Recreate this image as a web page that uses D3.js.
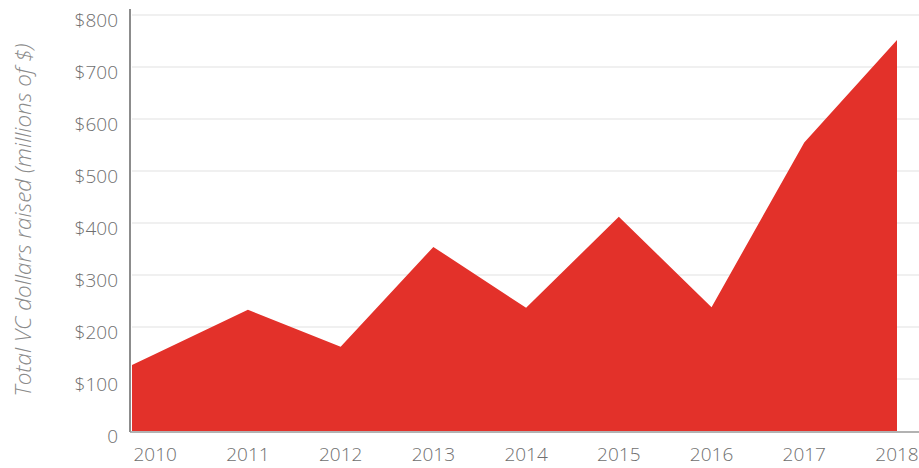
<!DOCTYPE html>
<meta charset="utf-8" />
<title>Total VC dollars raised</title>
<style>
  body { margin: 0; background: #fff; }
  svg { display: block; font-family: "Open Sans", sans-serif; }
  .grid line { stroke: #f0f0f0; stroke-width: 2px; }
  .tick-label { fill: #6f6f6f; font-size: 19px; font-weight: 300; }
  .axis-title { fill: #8a8a8a; font-size: 22.5px; font-style: italic; font-weight: 300; }
</style>
<svg width="919" height="468"></svg>
<script src="https://d3js.org/d3.v7.min.js"></script>
<script>
const years = [2010, 2011, 2012, 2013, 2014, 2015, 2016, 2017, 2018];
const raised = [148, 233, 162, 354, 237, 412, 238, 555, 752];
const yTicks = [0, 100, 200, 300, 400, 500, 600, 700, 800];

const svg = d3.select("svg");
const plotLeft = 132, plotRight = 897, plotTop = 15, plotBottom = 431;

const x = d3.scaleLinear().domain([2009.75, 2018]).range([plotLeft, plotRight]);
const y = d3.scaleLinear().domain([0, 800]).range([plotBottom, plotTop]);

const data = years.map((yr, i) => ({ year: yr, value: raised[i] }));

// gridlines
svg.append("g").attr("class", "grid")
  .selectAll("line")
  .data(yTicks.filter(d => d > 0))
  .enter().append("line")
  .attr("x1", plotLeft)
  .attr("x2", 919)
  .attr("y1", d => y(d))
  .attr("y2", d => y(d));

// the area starts at the axis: extend the first segment back to the domain start
const x0 = x.domain()[0];
const slope = (data[1].value - data[0].value) / (data[1].year - data[0].year);
const startValue = data[0].value + slope * (x0 - data[0].year);
const areaData = [{ year: x0, value: startValue }].concat(data);

const area = d3.area()
  .x(d => x(d.year))
  .y0(y(0))
  .y1(d => y(d.value));

svg.append("path")
  .datum(areaData)
  .attr("d", area)
  .attr("fill", "#e3312a");

// axes lines
svg.append("line")
  .attr("x1", plotLeft - 2).attr("x2", plotLeft - 2)
  .attr("y1", 9).attr("y2", plotBottom + 1)
  .attr("stroke", "#666").attr("stroke-width", 1.5);

svg.append("line")
  .attr("x1", plotLeft - 2).attr("x2", 919)
  .attr("y1", plotBottom + 1).attr("y2", plotBottom + 1)
  .attr("stroke", "#999").attr("stroke-width", 1.5);

// y tick labels
svg.append("g")
  .selectAll("text")
  .data(yTicks)
  .enter().append("text")
  .attr("class", "tick-label")
  .attr("x", 118)
  .attr("y", d => y(d) + 12)
  .attr("text-anchor", "end")
  .text(d => d === 0 ? "0" : "$" + d);

// x tick labels
svg.append("g")
  .selectAll("text")
  .data(years)
  .enter().append("text")
  .attr("class", "tick-label")
  .attr("x", d => x(d))
  .attr("y", 461)
  .attr("text-anchor", "middle")
  .text(d => d);

// y axis title
svg.append("text")
  .attr("class", "axis-title")
  .attr("transform", "translate(31,220) rotate(-90)")
  .attr("text-anchor", "middle")
  .text("Total VC dollars raised (millions of $)");
</script>
